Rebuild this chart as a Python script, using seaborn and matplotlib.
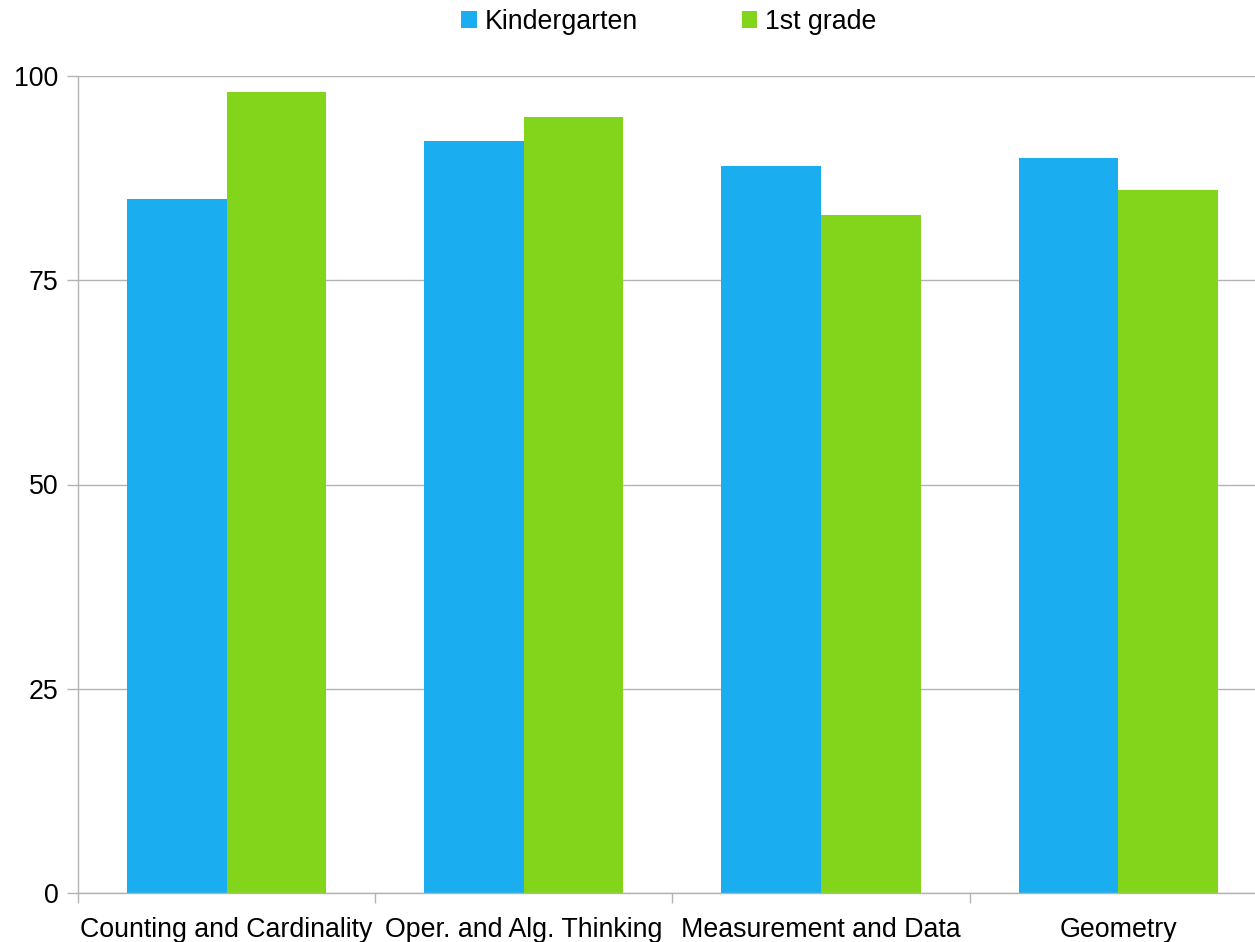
import matplotlib
matplotlib.use('Agg')
import matplotlib.pyplot as plt
import seaborn as sns
import pandas as pd

# data
categories = ['Counting and Cardinality', 'Oper. and Alg. Thinking',
              'Measurement and Data', 'Geometry']
kindergarten = [85, 92, 89, 90]
first_grade = [98, 95, 83, 86]
series_names = ['Kindergarten', '1st grade']
colors = ['#1aaef1', '#83d51c']

df = pd.DataFrame({
    'category': categories * 2,
    'score': kindergarten + first_grade,
    'group': [series_names[0]] * 4 + [series_names[1]] * 4,
})

sns.set_style('white')
plt.rcParams['font.family'] = ['Liberation Sans', 'DejaVu Sans']
plt.rcParams['text.color'] = 'black'
plt.rcParams['xtick.color'] = 'black'
plt.rcParams['ytick.color'] = 'black'

fs = 19.3
fig = plt.figure(figsize=(12.55, 9.42), dpi=100)
ax = fig.add_axes([78 / 1255, 49 / 942, 1 - 78 / 1255, 817 / 942])

sns.barplot(data=df, x='category', y='score', hue='group', palette=colors,
            width=0.67, gap=0, saturation=1, linewidth=0, ax=ax, legend=True)

ax.set_ylim(0, 100)
ax.set_xlim(-0.5, 3.46)
ax.set_yticks([0, 25, 50, 75, 100])
ax.yaxis.grid(True, color='#b3b3b3', linewidth=1)
ax.set_axisbelow(True)
ax.set_xlabel('')
ax.set_ylabel('')

# category boundaries as tick marks, labels centered
ax.set_xticks([-0.5, 0.5, 1.5, 2.5], minor=True)
ax.set_xticks(range(len(categories)))
ax.set_xticklabels(categories, fontsize=fs)
ax.tick_params(axis='x', which='major', bottom=False, length=0, pad=17)
ax.tick_params(axis='x', which='minor', bottom=True, length=7, color='#b3b3b3', width=1)
ax.tick_params(axis='y', left=True, length=8, color='#b3b3b3', labelcolor='black',
               width=1, labelsize=fs, pad=6)

for side in ['top', 'right']:
    ax.spines[side].set_visible(False)
for side in ['left', 'bottom']:
    ax.spines[side].set_color('#b3b3b3')
    ax.spines[side].set_linewidth(1)

handles, labels = ax.get_legend_handles_labels()
ax.legend_.remove()
fig.legend(handles, labels, loc='center', bbox_to_anchor=(669 / 1255, 1 - 22 / 942),
           ncol=2, frameon=False, fontsize=fs, handlelength=0.58, handleheight=0.58,
           handletextpad=0.3, columnspacing=3.85, borderpad=0)

fig.savefig('out.png', dpi=100)
